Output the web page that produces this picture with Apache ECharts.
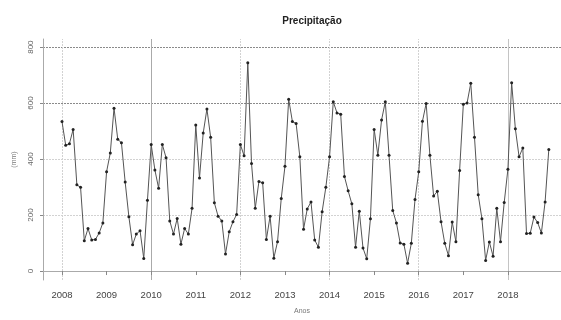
<!DOCTYPE html>
<html>
<head>
<meta charset="utf-8">
<script src="https://cdn.jsdelivr.net/npm/echarts@6/dist/echarts.min.js"></script>
<style>
  html, body { margin: 0; padding: 0; background: #fff; }
  #chart { width: 561px; height: 320px; filter: blur(0.45px); }
</style>
</head>
<body>
<div id="chart"></div>
<script>
// Monthly precipitation (mm), January 2008 to December 2018
const startYear = 2008;
const precip2008 = [534, 449, 455, 506, 308, 299, 108, 152, 111, 113, 136, 172];
const precip2009 = [355, 422, 582, 471, 458, 318, 194, 94, 132, 144, 45, 253];
const precip2010 = [452, 361, 296, 452, 405, 179, 132, 188, 96, 152, 132, 224];
const precip2011 = [522, 332, 493, 579, 478, 244, 196, 179, 61, 140, 176, 202];
const precip2012 = [452, 412, 744, 384, 224, 320, 315, 113, 196, 46, 105, 259];
const precip2013 = [374, 614, 534, 527, 408, 149, 222, 247, 111, 85, 212, 299];
const precip2014 = [408, 605, 565, 560, 338, 287, 240, 85, 214, 82, 44, 187];
const precip2015 = [506, 414, 540, 605, 414, 216, 172, 100, 96, 28, 99, 256];
const precip2016 = [355, 535, 599, 414, 268, 285, 176, 99, 55, 175, 105, 359];
const precip2017 = [596, 600, 671, 478, 273, 187, 38, 104, 53, 224, 105, 245];
const precip2018 = [364, 673, 508, 408, 440, 134, 135, 193, 173, 136, 247, 434];

const yearTicks = [2008, 2009, 2010, 2011, 2012, 2013, 2014, 2015, 2016, 2017, 2018];
const valueTicks = [0, 200, 400, 600, 800];

const allYears = [precip2008, precip2009, precip2010, precip2011, precip2012, precip2013,
  precip2014, precip2015, precip2016, precip2017, precip2018];
const points = [];
allYears.forEach((months, yi) => {
  months.forEach((v, m) => points.push([startYear + yi + m / 12, v]));
});

const darkGrid = { color: '#8a8a8a', type: [2, 1], width: 1 };
const lightGrid = { color: '#d2d2d2', type: [2, 1], width: 1 };

const chart = echarts.init(document.getElementById('chart'));
chart.setOption({
  animation: false,
  backgroundColor: '#fff',
  title: {
    text: 'Precipitação',
    left: 307,
    top: 11,
    textAlign: 'center',
    textStyle: { fontFamily: 'Liberation Sans', fontSize: 10, fontWeight: 'bold', color: '#222' }
  },
  grid: { left: 43, right: 0, top: 39, bottom: 37 },
  xAxis: {
    type: 'value',
    min: 2007.574,
    max: 2019.19,
    name: 'Anos',
    nameLocation: 'middle',
    nameGap: 28,
    nameTextStyle: { fontFamily: 'Liberation Sans', fontSize: 7, color: '#777' },
    axisLine: { show: true, lineStyle: { color: '#aaa' } },
    axisTick: { show: true, length: 4, customValues: yearTicks, lineStyle: { color: '#888' } },
    axisLabel: {
      customValues: yearTicks,
      margin: 10,
      formatter: v => String(Math.round(v)),
      fontFamily: 'Liberation Sans',
      fontSize: 9.5,
      color: '#444'
    },
    splitLine: { show: false }
  },
  yAxis: {
    type: 'value',
    min: -32,
    max: 829,
    name: '(mm)',
    nameLocation: 'middle',
    nameGap: 25,
    nameTextStyle: { fontFamily: 'Liberation Sans', fontSize: 7, color: '#777' },
    axisLine: { show: true, lineStyle: { color: '#aaa' } },
    axisTick: { show: true, length: 3, customValues: valueTicks, lineStyle: { color: '#888' } },
    axisLabel: {
      customValues: valueTicks,
      rotate: 90,
      margin: 8,
      fontFamily: 'Liberation Sans',
      fontSize: 8,
      color: '#666'
    },
    splitLine: { show: false }
  },
  series: [
    {
      // reference grid lines, kept underneath the data
      type: 'line',
      z: 1,
      data: points,
      symbol: 'none',
      silent: true,
      lineStyle: { opacity: 0 },
      markLine: {
        z: 0,
        silent: true,
        symbol: 'none',
        label: { show: false },
        data: [
          { yAxis: 0, lineStyle: darkGrid },
          { yAxis: 200, lineStyle: lightGrid },
          { yAxis: 400, lineStyle: lightGrid },
          { yAxis: 600, lineStyle: darkGrid },
          { yAxis: 800, lineStyle: darkGrid },
          { xAxis: 2008, lineStyle: lightGrid },
          { xAxis: 2010, lineStyle: { color: '#aaa', type: 'solid', width: 1 } },
          { xAxis: 2012, lineStyle: lightGrid },
          { xAxis: 2014, lineStyle: lightGrid },
          { xAxis: 2016, lineStyle: lightGrid },
          { xAxis: 2018, lineStyle: { color: '#c4c4c4', type: 'solid', width: 1 } }
        ]
      }
    },
    {
      type: 'line',
      z: 3,
      data: points,
      symbol: 'circle',
      symbolSize: 3,
      itemStyle: { color: '#222' },
      lineStyle: { color: '#555', width: 1 }
    }
  ]
});
</script>
</body>
</html>
